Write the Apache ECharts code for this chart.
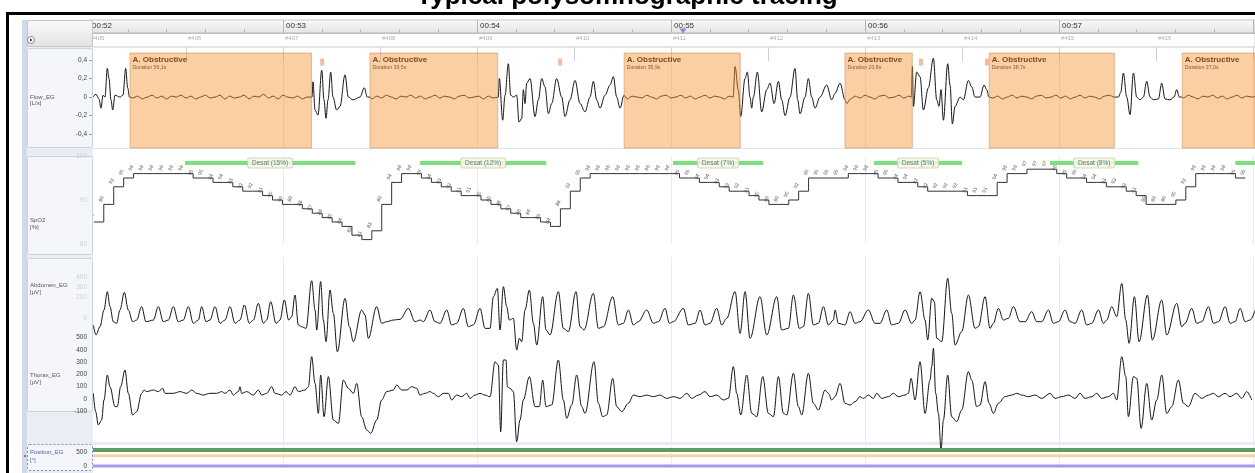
<!DOCTYPE html>
<html>
<head>
<meta charset="utf-8">
<script src="https://cdn.jsdelivr.net/npm/echarts@6/dist/echarts.min.js"></script>
<style>
  html, body { margin: 0; padding: 0; background: #fff; }
  #chart { width: 1255px; height: 473px; }
</style>
</head>
<body>
<div id="chart"></div>
<script>
// time in seconds from 00:52
const tMax = 360.6;
const firstMinute = 52;
const firstEpoch = 405;

// Flow_EG [L/s] : [t, value]
const flowEG = [
  [1.24,0],[2.16,0.03],[3.09,-0.02],[3.71,-0.12],[4.33,0.02],[4.95,0],[5.66,0.31],[6.19,0.2],[6.8,-0.03],[7.33,-0.14],[8.04,0.02],[9.59,0],[10.5,0.02],[11.35,0.31],[11.97,0.1],[12.5,0],
  [13.5,-0.01],[15,0.01],[16.5,-0.02],[18,0],[19.5,0.02],[21,-0.01],[22.5,0.01],[24,-0.02],[25.5,0.01],[27,0],[28.5,0.02],[30,-0.01],[31.5,0.01],[33,-0.02],[34.5,0],[36,0.02],[37.5,-0.01],[39,0],[40.5,0.02],[42,-0.02],[43.5,0.01],[45,-0.01],[46.5,0],[48,0.02],[49.5,-0.02],[51,0.01],[52.5,0],[54,0.03],[55.5,-0.01],[57,0.01],[58.5,-0.02],[60,0.02],[61.5,0],[63,-0.01],[64.5,0.01],[66,-0.02],[67.5,0],
  [68.97,0],[69.28,0.165],[69.9,-0.14],[70.83,-0.195],[71.97,0.29],[72.68,-0.03],[73.3,-0.23],[73.92,-0.03],[74.75,0.27],[75.46,0],[76.6,-0.14],[77.63,-0.1],[79.17,0.24],[80.2,0],[81.65,-0.03],[83.81,0],[85.14,0.1],[86.07,0],[86.91,0],
  [87.5,-0.02],[89,0.01],[90.5,-0.01],[92,0.02],[93.5,0],[95,-0.02],[96.5,0.01],[98,0],[99.5,0.02],[101,-0.01],[102.5,0.01],[104,-0.02],[105.5,0],[107,0.02],[108.5,-0.01],[110,0.01],[111.5,0],[113,-0.02],[114.5,0.01],[116,0.02],[117.5,-0.01],[119,0],[120.5,0.01],[122,-0.02],[123.5,0.01],[125,-0.01],
  [126.6,0],[126.9,0.2],[127.94,-0.25],[128.66,0.02],[129.69,0.36],[130.41,0.02],[131.24,0],[132.27,0.02],[132.99,-0.27],[133.82,-0.23],[134.33,0.08],[134.85,-0.07],[135.36,0.15],[136.39,0.2],[137.94,-0.21],[138.97,-0.03],[140,0.2],[141.03,0.11],[142.06,-0.18],[143.09,-0.07],[144.64,0.2],[146.19,0],[147.21,-0.21],[148.76,-0.03],[150.31,0.18],[151.86,-0.07],[153.4,-0.16],[154.95,0],[155.98,0.17],[157.01,-0.03],[158.04,-0.12],[159.59,0.02],[161.14,0.13],[162.17,0.22],[163.2,0],[164.23,-0.12],[165.46,0.02],
  [166.5,-0.02],[168,0.01],[169.5,0],[171,-0.01],[172.5,0.02],[174,0],[175.5,-0.02],[177,0.01],[178.5,0.02],[180,-0.01],[181.5,0],[183,0.02],[184.5,-0.01],[186,0.01],[187.5,-0.02],[189,0],[190.5,0.02],[192,-0.01],[193.5,0.01],[195,0],[196.5,-0.02],[198,0.01],[199.2,0],
  [199.8,0.33],[200.82,0.07],[201.54,-0.21],[202.88,0.2],[203.6,0.27],[204.43,0],[204.95,-0.12],[205.46,0],[206.7,0.27],[208.04,-0.16],[209.59,0.08],[210.62,0.15],[211.86,-0.07],[213.2,0.17],[214.23,-0.03],[215.26,-0.2],[216.8,0],[218.34,0.31],[219.17,-0.03],[219.9,-0.18],[221.44,0],[222.47,0.2],[223.5,0],[224.53,-0.12],[226.08,0],[228.14,0.13],[229.69,-0.03],[230.72,0.04],[232.27,0.15],[233.81,-0.03],[234.33,-0.07],
  [235.5,-0.02],[237,0.01],[238.5,-0.01],[240,0.02],[241.5,0],[243,-0.02],[244.5,0.01],[246,0.02],[247.5,-0.01],[249,0],[250.5,0.02],[252,-0.01],[253.5,0.01],[254.3,0],
  [254.64,0.33],[254.95,-0.1],[255.98,0.27],[257.01,0.22],[258.04,-0.14],[259.59,0.1],[261.13,0.42],[262.16,-0.03],[262.88,-0.1],[263.5,0.08],[264.23,-0.25],[265.57,0.36],[266.29,0.13],[267.01,-0.29],[267.84,-0.1],[269.38,0],[270.41,-0.03],[271.96,0.18],[272.99,0.11],[274.02,0],[275.57,0],[276.8,0.13],[277.63,0.08],[278.35,0],
  [279.5,-0.01],[281,0.01],[282.5,-0.02],[284,0],[285.5,0.02],[287,-0.01],[288.5,0.01],[290,0],[291.5,-0.02],[293,0.01],[294.5,0.02],[296,-0.01],[297.5,0],[299,0.02],[300.5,-0.01],[302,0.01],[303.5,-0.02],[305,0],[306.5,0.02],[308,-0.01],[309.5,0.01],[311,0],[312.5,-0.02],[314,0.01],[315.5,0.02],[317,0],
  [317.32,0],[318.35,0],[319.07,0.05],[319.9,0.26],[320.93,0],[321.96,-0.19],[322.99,0.26],[324.02,0],[325.05,-0.03],[326.08,0],[327.11,0.17],[328.14,0],[329.18,-0.03],[330.72,-0.02],[331.75,0.15],[332.78,-0.02],[334.33,-0.03],[335.57,0],[336.39,0.08],[337.22,0],[337.94,0],
  [338.5,-0.01],[340,0.02],[341.5,0],[343,-0.02],[344.5,0.01],[346,0],[347.5,0.02],[349,-0.01],[350.5,0.01],[352,-0.02],[353.5,0],[355,0.02],[356.5,-0.01],[358,0.01],[359.5,0],[361,0.01]
];

// SpO2 [%], one value per sample
const spo2Start = 1.5;
const spo2Step = 3.07;
const spo2 = [
  85,89,93,95,96,96,96,96,96,96,
  95,95,94,94,93,92,92,91,90,89,
  89,88,87,86,85,84,82,81,83,89,
  94,96,96,95,94,93,92,91,91,90,
  89,88,87,86,86,85,84,88,92,95,
  96,96,96,96,96,96,96,96,96,95,
  95,94,94,93,92,92,91,90,89,89,
  90,92,95,95,95,95,96,96,96,95,
  95,94,94,93,92,92,92,92,91,91,
  91,94,96,96,97,97,97,96,95,95,
  94,94,93,93,92,91,89,89,89,90,
  93,96,96,96,96,95,95
];

// Abdomen_EG [µV]
const abdomenEG = [
  [1.34,-68],[2.16,-166],[3.4,-85],[4.64,78],[5.67,257],[6.49,111],[7.52,-36],[8.55,-52],[9.58,78],[10.93,250],[12.16,78],[13.5,-36],[14.74,-20],[16.28,111],[17.63,-36],[19.9,-20],[21.44,111],[22.99,-36],[24.54,-20],[26.08,111],[27.63,-36],[29.17,-20],[30.72,111],[32.27,-52],[33.81,-20],[34.85,111],[36.19,-36],[37.42,-20],[38.97,111],[40.51,-52],[42.06,-20],[43.61,111],[45.16,-52],[46.7,-20],[48.04,127],[49.59,-52],[50.83,-20],[52.37,143],[53.92,-52],[54.95,-20],[56.19,159],[57.84,-52],[59.07,-20],[60.41,176],[61.75,-20],[62.68,13],[63.71,224],[64.74,-68],[65.77,-85],[67.12,-101],[68.87,364],[69.9,78],[70.42,-117],[71.65,355],[72.48,-20],[73.3,-231],[74.54,273],[75.57,46],[76.81,-329],[79.18,192],[80.52,-85],[81.76,-231],[84.33,78],[85.36,29],[86.4,-198],[88.97,111],[90.52,-52],[92.07,-36],[94.13,-20],[96.19,-13],[98.77,94],[100.83,-36],
  [102.37,-20],[103.4,-36],[105.46,78],[107,-36],[108.56,-52],[110.62,78],[112.16,-68],[113.71,-52],[115.77,94],[117.32,-85],[118.87,-68],[120.93,94],[122.47,-101],[124.02,-101],[125.05,208],[126.29,289],[127.11,-117],[128.15,306],[129.18,111],[130,-20],[131.24,-3],[132.27,-312],[133.09,-198],[133.82,-231],[134.85,78],[136.19,273],[137.43,-52],[138.46,-264],[140.31,208],[141.34,-117],[142.58,-166],[145.15,257],[146.7,-101],[148.25,-133],[150.62,257],[151.86,-85],[153.1,-117],[155.98,241],[157.53,-101],[159.08,-85],[161.96,208],[163.72,-68],[165.26,-52],[166.81,78],[168.36,-68],[169.9,-36],[172.48,78],[174.54,-52],[176.09,-36],[178.15,94],[179.49,-52],[180.73,-36],[183.82,94],[185.37,-68],[187.43,-52],[188.98,78],[190.52,-68],[192.07,-52],[194.13,94],[195.68,-68],[197.22,-3],[199.8,257],[201.35,-150],[202.9,257],[204.44,-198],[207.53,208],[209.6,-166],[212.69,208],[214.24,-117],[216.3,-101],[217.84,224],[219.7,-101],[220.93,-85],[222.48,241],[224.03,-68],[225.58,-52],[227.12,111],[228.67,-68],[230.21,-20],
  [230.72,78],[231.75,-52],[233.81,-68],[235.36,62],[236.91,-52],[238.45,-36],[241.03,78],[243.09,-52],[244.64,-52],[246.7,78],[248.25,-68],[250.31,-52],[252.37,78],[254.43,-52],[255.46,-20],[257.01,257],[258.56,-20],[259.38,-215],[260.62,192],[261.44,159],[262.17,-198],[263.71,-231],[265.57,387],[266.8,46],[267.84,-264],[269.9,-133],[271.96,224],[274.02,-101],[275.05,-85],[277.12,208],[278.66,-101],[279.69,-52],[281.24,94],[282.79,-20],[284.33,-3],[285.88,111],[287.94,-36],[289.49,-36],[291.55,62],[293.1,-36],[294.64,-36],[296.7,78],[298.25,-52],[299.8,-36],[301.86,78],[303.4,-36],[304.95,-52],[307.01,78],[308.56,-68],[310.11,-52],[312.17,78],[313.72,-52],[314.75,-20],[316.29,111],[317.84,13],[319.39,338],[320.63,-20],[321.66,-247],[323.31,208],[324.75,-231],[327.33,224],[328.87,-215],[331.76,176],[333.31,-166],[336.4,143],[337.95,-85],[338.98,-52],[341.04,94],[342.59,-52],[344.14,-36],[346.2,111],[347.75,-52],[349.3,-36],[351.36,111],[352.9,-52],[354.45,-36],[356,94],[357.55,-36],[359.1,-20],[360.65,78]
];

// Thorax_EG [µV]
const thoraxEG = [
  [1.34,46],[2.06,-103],[2.88,-211],[3.91,-171],[4.64,-8],[5.67,195],[6.49,100],[8.04,-62],[8.76,-62],[9.79,100],[11.13,236],[12.16,46],[13.5,-130],[14.74,-103],[16.28,46],[17,73],[17.83,60],[19.9,73],[21.44,60],[22.78,87],[23.5,46],[26.08,46],[28.14,60],[30.2,46],[31.75,73],[33.3,46],[35.36,32],[37.42,46],[39.48,46],[41.03,60],[42.06,46],[43.61,73],[44.64,32],[46.19,60],[46.7,100],[47.22,46],[48.77,60],[50.83,32],[52.37,73],[53.41,32],[54.95,46],[56.5,100],[57.53,46],[59.59,32],[60.93,60],[62.17,32],[63.71,100],[64.74,60],[66.8,73],[67.84,100],[68.87,344],[69.9,127],[70.93,-117],[71.65,195],[72.69,-144],[74.03,182],[75.57,-171],[77.12,-198],[78.67,154],[80.21,87],[81.76,46],[82.79,127],[84.33,-144],[85.88,-252],[87.12,-279],[88.97,-171],[90.52,-8],[92.07,60],[94.13,73],[95.16,114],[96.71,73],[98.26,73],[99.8,100],[101.35,87],
  [102.37,32],[103.92,46],[105.46,60],[106.49,46],[108.04,19],[109.59,46],[111.13,46],[112.16,-8],[113.71,32],[115.26,19],[116.8,46],[117.84,5],[119.38,32],[120.93,46],[122.47,32],[124.02,19],[125.57,303],[126.6,276],[127.32,-266],[128.15,317],[128.97,317],[129.38,100],[130.21,87],[131.24,60],[132.27,-347],[133.3,-171],[134.33,-8],[136.19,182],[137.94,-62],[139.28,-62],[140.31,154],[141.34,-62],[143.09,-49],[145.15,317],[146.7,-8],[147.73,-157],[149.28,-49],[150.83,195],[152.37,-62],[153.4,-117],[156.19,303],[157.53,-35],[158.87,-144],[160.11,-130],[161.96,168],[163.2,-62],[164.75,-103],[166.81,-35],[168.36,32],[170.42,19],[172.48,32],[174.54,19],[176.6,32],[178.66,5],[180.73,19],[182.79,5],[184.85,46],[186.4,5],[188.46,32],[190.52,60],[192.07,19],[194.13,32],[196.19,-8],[197.74,5],[199.29,263],[200.32,46],[201.56,-130],[203.41,195],[204.96,-117],[206.5,-144],[208.36,182],[210.11,-117],[211.66,-144],[213.2,182],[214.75,-117],[215.78,-130],[217.84,209],[219.39,-62],[220.42,-130],[222.48,209],[224.03,-35],[225.58,-90],[227.64,73],[228.67,46],[229.7,-8],
  [230.72,19],[232.27,127],[233.81,-35],[235.36,-49],[236.91,-22],[238.45,19],[239.48,5],[241.03,32],[242.58,5],[243.61,46],[245.15,5],[247.22,19],[248.76,46],[250.31,19],[252.37,32],[253.4,46],[254.23,168],[255.46,-8],[257.01,303],[258.56,-117],[260.1,154],[260.62,263],[261.14,412],[261.86,46],[262.69,-117],[263.51,-415],[264.23,-171],[265.57,195],[266.8,-144],[268.35,-184],[269.9,-90],[271.96,222],[272.99,154],[274.53,-62],[275.57,-49],[277.12,141],[278.35,-35],[279.69,-117],[281.24,-35],[283.3,19],[285.36,32],[286.91,46],[288.45,32],[290.52,19],[292.58,32],[294.64,5],[297.22,46],[298.76,5],[300.82,19],[302.89,32],[304.95,5],[306.5,46],[308.04,5],[310.11,19],[311.65,46],[313.2,5],[315.26,19],[316.81,46],[317.84,-8],[319.39,344],[320.63,182],[321.45,-144],[323,182],[324.03,168],[325.37,-239],[327.12,127],[328.66,-171],[330.21,-8],[331.76,195],[333.31,-117],[334.85,-62],[336.91,154],[338.46,-35],[340,-62],[342.06,46],[344.12,5],[346.18,32],[347.73,46],[349.27,19],[351.33,46],[352.88,19],[354.95,46],[356.49,5],[358.04,60],[359.59,-8]
];

// Position_EG [°] traces (constant over this window)
const positionLevels = [565, 364, 0];
const positionColors = ['#5e9d5e', '#f3d6a0', '#a39ce2'];

// scored events
const apneaStart = [12.7, 86.9, 165.5, 233.8, 278.4, 338.1];
const apneaDur = [56.1, 39.5, 35.9, 20.8, 38.7, 37.0];
const apneaType = 'A. Obstructive';
const desatStart = [29.7, 102.4, 180.6, 242.8, 297.2, 354.5];
const desatEnd = [82.3, 141.4, 208.5, 270.0, 324.5, 372.0];
const desatPct = [15, 12, 7, 5, 8];
const arousalT = [72.1, 145.7, 257.3, 277.7];
const cursorT = 183.7;

const chart = echarts.init(document.getElementById('chart'));
const FONT = 'Liberation Sans';

const grids = [
  {top: 20, height: 13},
  {top: 33, height: 14},
  {top: 48, height: 100},
  {top: 156, height: 88},
  {top: 256.5, height: 102.5},
  {top: 337.5, height: 123},
  {top: 449, height: 17}
].map((g, i) => Object.assign({
  left: 89, right: 0, containLabel: false, outerBoundsMode: 'none',
  show: i < 2,
  borderColor: '#c9c9c9', borderWidth: 1,
  backgroundColor: i === 0
    ? new echarts.graphic.LinearGradient(0, 0, 0, 1, [{offset: 0, color: '#fafafa'}, {offset: 1, color: '#e4e4e4'}])
    : '#ffffff'
}, g));

function plotX(gi) {
  return {
    gridIndex: gi, type: 'value', min: 0, max: tMax, interval: 60,
    axisLine: {show: false}, axisTick: {show: false}, axisLabel: {show: false},
    splitLine: {show: true, lineStyle: {color: '#e6ecf2', width: 1}}
  };
}

const xAxes = [
  {
    gridIndex: 0, type: 'value', min: 0, max: tMax, interval: 60, position: 'bottom', z: 1,
    axisLine: {show: true, lineStyle: {color: '#bdbdbd'}},
    axisTick: {show: true, inside: true, length: 13, lineStyle: {color: '#b8b8b8'}},
    minorTick: {show: true, splitNumber: 5, length: 4, lineStyle: {color: '#b8b8b8'}},
    splitLine: {show: false},
    axisLabel: {
      inside: true, align: 'left', verticalAlign: 'bottom', margin: 3, padding: [0, 0, 0, 3],
      fontSize: 8, color: '#333', fontFamily: FONT, showMinLabel: true, showMaxLabel: true,
      formatter: v => (v % 60 === 0 && v < tMax) ? '00:' + (firstMinute + v / 60) : ''
    }
  },
  {
    gridIndex: 1, type: 'value', min: 0, max: tMax, interval: 30, position: 'top', z: 1,
    axisLine: {show: false},
    axisTick: {show: true, inside: true, length: 14, lineStyle: {color: '#cfcfcf'}},
    splitLine: {show: false},
    axisLabel: {
      inside: true, align: 'left', verticalAlign: 'top', margin: 2, padding: [0, 0, 0, 2],
      fontSize: 6, color: '#b0b0b0', fontFamily: FONT,
      formatter: v => (v % 30 === 0 && v < tMax) ? '#' + (firstEpoch + v / 30) : ''
    }
  },
  plotX(2), plotX(3), plotX(4), plotX(5), plotX(6)
];

function plotY(gi, min, max, vals, color, fmt, tick) {
  return {
    gridIndex: gi, type: 'value', min: min, max: max, z: 10, offset: -3,
    axisLine: {show: false}, splitLine: {show: false},
    axisTick: {show: !!tick, customValues: vals, length: 3, lineStyle: {color: '#9a9a9a'}},
    axisLabel: {show: true, customValues: vals, color: color, fontSize: 6.5, margin: 5, fontFamily: FONT, formatter: fmt}
  };
}

const yAxes = [
  {gridIndex: 0, show: false, min: 0, max: 1},
  {gridIndex: 1, show: false, min: 0, max: 1},
  plotY(2, -0.55, 0.53, [-0.4, -0.2, 0, 0.2, 0.4], '#444',
    v => v === 0 ? '0' : v.toFixed(1).replace('.', ','), true),
  plotY(3, 80, 100, [80, 90, 100], '#cbd2da', v => String(v)),
  plotY(4, -400, 600, [0, 200, 300, 400], '#cbd2da', v => String(v)),
  plotY(5, -500, 500, [-100, 0, 100, 200, 300, 400, 500], '#444', v => String(v)),
  plotY(6, 0, 600, [0, 500], '#444', v => String(v))
];

const series = [];
const wave = {color: '#151515', width: 1};

// flow
series.push({
  type: 'line', xAxisIndex: 2, yAxisIndex: 2, data: flowEG, symbol: 'none', z: 2,
  smooth: 0.35, smoothMonotone: 'x', lineStyle: wave
});

// apnea boxes + arousal marks
series.push({
  type: 'scatter', xAxisIndex: 2, yAxisIndex: 2, z: 4,
  data: arousalT.map(t => [t, 0.378]),
  symbol: 'rect', symbolSize: [4, 7], itemStyle: {color: '#f4ab8c'},
  markArea: {
    z: 3, silent: true,
    itemStyle: {color: 'rgba(242,148,51,0.45)', borderColor: 'rgba(214,140,80,0.55)', borderWidth: 1},
    label: {
      show: true, position: 'insideTopLeft', distance: 3,
      formatter: p => '{a|' + apneaType + '}\n{b|' + p.name + '}',
      rich: {
        a: {fontSize: 8, fontWeight: 'bold', color: '#7a4a20', fontFamily: FONT, lineHeight: 9},
        b: {fontSize: 5.2, color: '#84603f', fontFamily: FONT, lineHeight: 6}
      }
    },
    data: apneaStart.map((s, i) => [
      {xAxis: s, yAxis: 0.476, name: 'Duration ' + apneaDur[i].toFixed(1).replace('.', ',') + 's'},
      {xAxis: s + apneaDur[i], yAxis: -0.55}
    ])
  }
});

// SpO2
series.push({
  type: 'line', xAxisIndex: 3, yAxisIndex: 3, step: 'end', z: 2,
  data: spo2.map((v, i) => [spo2Start + i * spo2Step, v]),
  symbol: 'circle', symbolSize: 1, showSymbol: true,
  itemStyle: {color: 'rgba(0,0,0,0)'},
  lineStyle: {color: '#333', width: 1},
  label: {show: true, position: 'top', distance: 4, rotate: 65, fontSize: 5, color: '#555', fontFamily: FONT,
    formatter: p => String(p.value[1])}
});

// desaturation bars
const desatLevel = 98.4;
desatStart.forEach((s, i) => {
  series.push({
    type: 'line', xAxisIndex: 3, yAxisIndex: 3, z: 3, symbol: 'none', silent: true,
    data: [[s, desatLevel], [desatEnd[i], desatLevel]],
    lineStyle: {color: '#7be07b', width: 4}
  });
});
series.push({
  type: 'scatter', xAxisIndex: 3, yAxisIndex: 3, z: 4, symbolSize: 0,
  data: desatPct.map((p, i) => [(desatStart[i] + desatEnd[i]) / 2, desatLevel, p]),
  label: {
    show: true, position: 'inside', formatter: p => 'Desat (' + p.value[2] + '%)',
    fontSize: 6.5, color: '#555', fontFamily: FONT,
    backgroundColor: '#fbfaf0', borderColor: '#cfcaa8', borderWidth: 1, borderRadius: 2, padding: [1, 4]
  }
});

// abdomen / thorax
series.push({
  type: 'line', xAxisIndex: 4, yAxisIndex: 4, data: abdomenEG, symbol: 'none', z: 2,
  smooth: 0.35, smoothMonotone: 'x', lineStyle: wave
});
series.push({
  type: 'line', xAxisIndex: 5, yAxisIndex: 5, data: thoraxEG, symbol: 'none', z: 2, clip: false,
  smooth: 0.35, smoothMonotone: 'x', lineStyle: wave
});

// position
positionLevels.forEach((lv, i) => {
  series.push({
    type: 'line', xAxisIndex: 6, yAxisIndex: 6, symbol: 'none', z: 2, clip: false,
    data: [[0, lv], [tMax, lv]],
    lineStyle: {color: positionColors[i], width: i === 0 ? 4 : 3}
  });
});

// cursor marker in time ruler
series.push({
  type: 'scatter', xAxisIndex: 0, yAxisIndex: 0, z: 3,
  data: [[cursorT, 0.15]], symbol: 'triangle', symbolRotate: 180, symbolSize: [7, 5],
  itemStyle: {color: '#6674d8'}
});

// left label panel and frame
const txt = (x, y, s, color) => ({
  type: 'text', x: x, y: y, z: 6,
  style: {text: s, fill: color || '#555', font: '6px "' + FONT + '"', align: 'left', verticalAlign: 'middle'}
});
const box = (y, h, stroke, dash) => ({
  type: 'rect', z: 5, shape: {x: 27.5, y: y, width: 65, height: h, r: 2},
  style: {fill: '#f4f6fa', stroke: stroke || '#c9d3df', lineWidth: 1, lineDash: dash || null}
});

const graphics = [
  {type: 'text', x: 627, y: 10, z: 6,
    style: {text: 'Typical polysomnographic tracing', fill: '#000', font: 'bold 26px "' + FONT + '"', align: 'center', verticalAlign: 'bottom'}},
  {type: 'rect', z: 6, shape: {x: 6, y: 12, width: 1249, height: 3}, style: {fill: '#000'}},
  {type: 'rect', z: 6, shape: {x: 6, y: 12, width: 3, height: 461}, style: {fill: '#000'}},
  {type: 'rect', z: 1, shape: {x: 93, y: 148, width: 1162, height: 1}, style: {fill: '#dbe3ec'}},
  {type: 'rect', z: 1, shape: {x: 93, y: 442, width: 1162, height: 3}, style: {fill: '#e4edf6'}},
  {type: 'rect', z: 5, shape: {x: 22, y: 20, width: 71, height: 453}, style: {fill: '#e9eef5'}},
  {type: 'rect', z: 5, shape: {x: 22, y: 20, width: 5, height: 453}, style: {fill: '#cfdbea'}},
  {type: 'rect', z: 5, shape: {x: 27.5, y: 20.5, width: 65, height: 26},
    style: {fill: new echarts.graphic.LinearGradient(0, 0, 0, 1, [{offset: 0, color: '#fafafa'}, {offset: 1, color: '#e2e2e2'}]), stroke: '#c6c6c6'}},
  {type: 'circle', z: 6, shape: {cx: 31, cy: 40, r: 3.5}, style: {fill: '#fff', stroke: '#8a8a8a'}},
  {type: 'polygon', z: 7, shape: {points: [[30, 38.4], [32.6, 40], [30, 41.6]]}, style: {fill: '#333'}},
  box(48.5, 99), box(156.5, 98), box(258.5, 153), box(444.5, 26, '#7b8ad8', [2, 2]),
  txt(30, 97, 'Flow_EG'), txt(30, 103.5, '[L/s]'),
  txt(30, 220, 'SpO2'), txt(30, 227, '[%]'),
  txt(30, 285, 'Abdomen_EG'), txt(30, 292, '[µV]'),
  txt(30, 375, 'Thorax_EG'), txt(30, 382, '[µV]'),
  txt(30, 452, 'Position_EG', '#4a5bd0'), txt(30, 460, '[°]', '#4a5bd0'),
  {type: 'circle', z: 6, shape: {cx: 25, cy: 456, r: 0.9}, style: {fill: '#555'}}
];

chart.setOption({
  animation: false,
  backgroundColor: '#ffffff',
  textStyle: {fontFamily: FONT},
  grid: grids,
  xAxis: xAxes,
  yAxis: yAxes,
  series: series,
  graphic: {elements: graphics}
});
</script>
</body>
</html>
